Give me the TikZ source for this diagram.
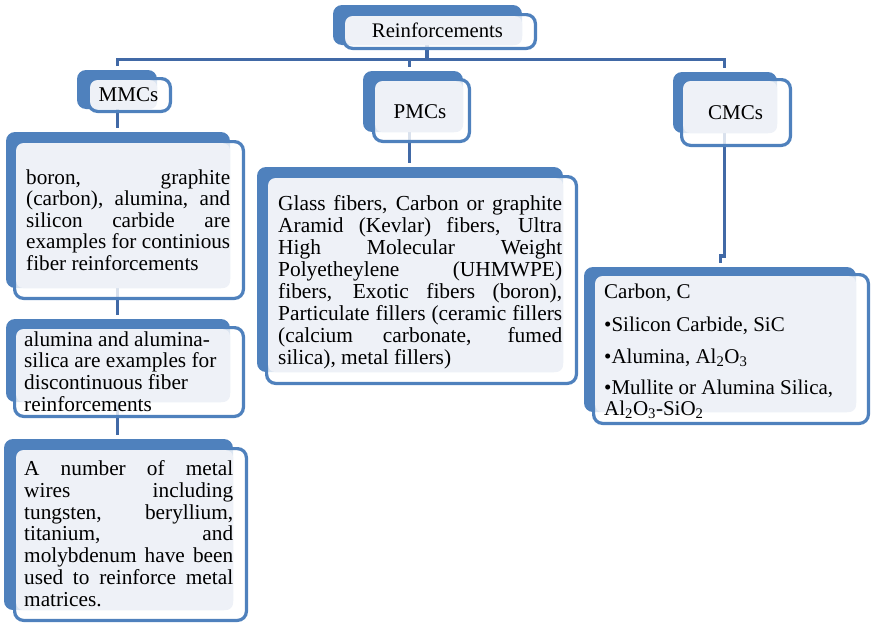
\documentclass[tikz,border=0pt]{standalone}
\usepackage{fontspec}
\setmainfont{Liberation Serif}
\usetikzlibrary{backgrounds}
\definecolor{accent}{HTML}{4F81BD}
\definecolor{linkc}{HTML}{4169A6}
\definecolor{panec}{HTML}{EEF1F7}
\begin{document}
\begin{tikzpicture}[x=1pt,y=-1pt,
  backbox/.style={fill=accent, rounded corners=9pt, inner sep=0pt, outer sep=0pt, anchor=north west},
  frontbox/.style={draw=accent, line width=3.2pt, fill=white, fill opacity=0.8, draw opacity=1,
    rounded corners=9pt, inner sep=0pt, outer sep=0pt, anchor=north west},
  panebox/.style={fill=panec, rounded corners=7pt, inner sep=0pt, outer sep=0pt, anchor=north west},
  link/.style={draw=linkc, line width=3.8pt},
  label/.style={inner sep=0pt, font=\fontsize{21}{21}\selectfont},
  body/.style={inner sep=0pt, align=left, anchor=north west},
]
\useasboundingbox (0,0) rectangle (871,624);

% ---------- Reinforcements ----------
\node[backbox, minimum width=189pt, minimum height=40pt] (rB) at (333,5) {};
\node[frontbox, minimum width=191.8pt, minimum height=33.8pt] (rF) at (343.6,14.6) {};
\node[panebox, minimum width=176.8pt, minimum height=28.8pt] (rP) at (345.2,16.2) {};
\node[label, font=\fontsize{20.7}{21}\selectfont] (rT) at (437.5,30.5) {Reinforcements};

% ---------- MMCs ----------
\node[backbox, minimum width=80pt, minimum height=39pt] (mB) at (77,70) {};
\node[frontbox, minimum width=81.8pt, minimum height=32.8pt] (mF) at (88.6,78.6) {};
\node[panebox, minimum width=66.8pt, minimum height=28.8pt] (mP) at (90.2,80.2) {};
\node[label] (mT) at (128.5,94.5) {MMCs};

% ---------- PMCs ----------
\node[backbox, minimum width=100pt, minimum height=61pt] (pB) at (363,71) {};
\node[frontbox, minimum width=95.8pt, minimum height=61.8pt] (pF) at (373.6,79.6) {};
\node[panebox, minimum width=87.8pt, minimum height=50.8pt] (pP) at (375.2,81.2) {};
\node[label] (pT) at (420,112) {PMCs};

% ---------- CMCs ----------
\node[backbox, minimum width=104pt, minimum height=61pt] (cB) at (673,72) {};
\node[frontbox, minimum width=108.8pt, minimum height=65.8pt] (cF) at (681.6,79.6) {};
\node[panebox, minimum width=93.8pt, minimum height=51.8pt] (cP) at (683.2,81.2) {};
\node[label] (cT) at (735.5,112.5) {CMCs};

% ---------- MMC: continuous fibres ----------
\node[backbox, minimum width=224pt, minimum height=156pt] (m1B) at (6,132) {};
\node[frontbox, minimum width=228.8pt, minimum height=156.8pt] (m1F) at (14.6,141.6) {};
\node[panebox, minimum width=213.8pt, minimum height=144.8pt] (m1P) at (16.2,143.2) {};
\node[body, font=\fontsize{21.2}{21.5}\selectfont] (m1T) at (26,168.9) {%
  \strut\makebox[204pt][s]{boron, graphite}\\
  \makebox[204pt][s]{(carbon), alumina, and}\\
  \makebox[204pt][s]{silicon carbide are}\\
  \makebox[204pt][s]{examples for continious}\\
  fiber reinforcements};

% ---------- MMC: discontinuous fibres ----------
\node[backbox, minimum width=224pt, minimum height=83pt] (m2B) at (6,319) {};
\node[frontbox, minimum width=228.8pt, minimum height=88.8pt] (m2F) at (14.6,327.6) {};
\node[panebox, minimum width=213.8pt, minimum height=72.8pt] (m2P) at (16.2,329.2) {};
\node[body, font=\fontsize{21.3}{21.7}\selectfont] (m2T) at (24,330.8) {%
  \strut alumina and alumina-\\
  silica are examples for\\
  discontinuous fiber\\
  reinforcements};

% ---------- MMC: metal wires ----------
\node[backbox, minimum width=229pt, minimum height=171pt] (m3B) at (4,439) {};
\node[frontbox, minimum width=231.8pt, minimum height=171.8pt] (m3F) at (14.6,448.6) {};
\node[panebox, minimum width=216.8pt, minimum height=159.8pt] (m3P) at (16.2,450.2) {};
\node[body, font=\fontsize{21.3}{21.9}\selectfont] (m3T) at (24,459.7) {%
  \strut\makebox[209pt][s]{A number of metal}\\
  \makebox[209pt][s]{wires including}\\
  \makebox[209pt][s]{tungsten, beryllium,}\\
  \makebox[209pt][s]{titanium, and}\\
  \makebox[209pt][s]{molybdenum have been}\\
  \makebox[209pt][s]{used to reinforce metal}\\
  matrices.};

% ---------- PMC list ----------
\node[backbox, minimum width=306pt, minimum height=205pt] (pbB) at (257,167) {};
\node[frontbox, minimum width=309.8pt, minimum height=206.8pt] (pbF) at (266.6,176.6) {};
\node[panebox, minimum width=294.8pt, minimum height=193.8pt] (pbP) at (268.2,178.2) {};
\node[body, font=\fontsize{21.4}{22.1}\selectfont] (pbT) at (278,194.5) {%
  \strut\makebox[284pt][s]{Glass fibers, Carbon or graphite}\\
  \makebox[284pt][s]{Aramid (Kevlar) fibers, Ultra}\\
  \makebox[284pt][s]{High Molecular Weight}\\
  \makebox[284pt][s]{Polyetheylene (UHMWPE)}\\
  \makebox[284pt][s]{fibers, Exotic fibers (boron),}\\
  \makebox[284pt][s]{Particulate fillers (ceramic fillers}\\
  \makebox[284pt][s]{(calcium carbonate, fumed}\\
  silica), metal fillers)};

% ---------- CMC list ----------
\node[backbox, minimum width=272pt, minimum height=145pt] (cbB) at (584,267) {};
\node[frontbox, minimum width=274.8pt, minimum height=148.8pt] (cbF) at (593.6,274.6) {};
\node[panebox, minimum width=260.8pt, minimum height=135.8pt] (cbP) at (595.2,276.2) {};
\node[body, font=\fontsize{21}{20.5}\selectfont] (cbT) at (604,283.65) {%
  \strut Carbon, C\\[11.5pt]
  •Silicon Carbide, SiC\\[11.5pt]
  •Alumina, Al\textsubscript{2}O\textsubscript{3}\\[10.5pt]
  •Mullite or Alumina Silica,\\
  Al\textsubscript{2}O\textsubscript{3}-SiO\textsubscript{2}};

% ---------- connectors ----------
\coordinate (busL) at (117.5,59.5);
\coordinate (busR) at (724.5,59.5);
\coordinate (jR) at (427,59.5);
\coordinate (jP) at (409.5,59.5);
\coordinate (cjog) at (720.5,256);
\begin{pgfonlayer}{background}
  \draw[link] (rP.south -| jR) -- (jR);
  \draw[link, shorten >=4pt, shorten <=4pt] (mB.north -| busL) -- (busL) -- (busR) -- (cB.north -| busR);
  \draw[link, shorten >=4pt] (jP) -- (pB.north -| jP);
  \draw[link, shorten >=4pt] (mP.south -| busL) -- (m1B.north -| busL);
  \draw[link, shorten >=4pt] (m1P.south -| busL) -- (m2B.north -| busL);
  \draw[link, shorten >=4pt] (m2P.south -| busL) -- (m3B.north -| busL);
  \draw[link, shorten >=4pt] (pP.south -| jP) -- (pbB.north -| jP);
  \draw[link, shorten >=4pt] (cP.south -| busR) -- (busR |- cjog) -- (cjog) -- (cbB.north -| cjog);
\end{pgfonlayer}
\end{tikzpicture}
\end{document}
